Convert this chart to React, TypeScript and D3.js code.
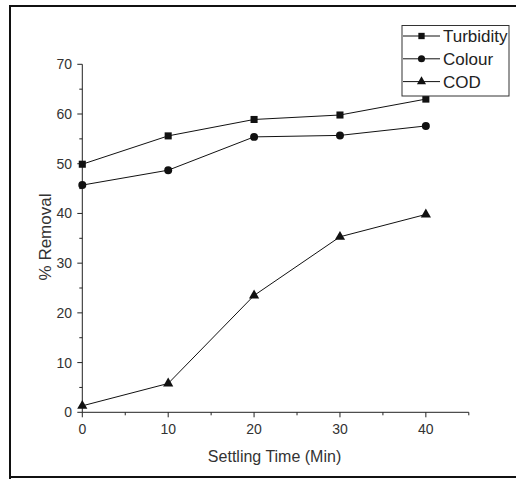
import React, { useEffect, useRef } from "react";
import * as d3 from "d3";

const times = [0, 10, 20, 30, 40];
const turbidity = [49.9, 55.6, 58.9, 59.8, 63.0];
const colour = [45.7, 48.7, 55.4, 55.7, 57.6];
const cod = [1.3, 5.8, 23.5, 35.3, 39.8];
const seriesNames = ["Turbidity", "Colour", "COD"];
const yTicks = [0, 10, 20, 30, 40, 50, 60, 70];
const xTicks = [0, 10, 20, 30, 40];

const W = 516;
const H = 479;
const FONT = "'Liberation Sans', Arial, sans-serif";

export default function App() {
  const ref = useRef<SVGSVGElement>(null);

  useEffect(() => {
    const svg = d3.select(ref.current);
    svg.selectAll("*").remove();

    const x = d3.scaleLinear().domain([0, 45]).range([82.3, 468.8]);
    const y = d3.scaleLinear().domain([0, 70]).range([412.3, 64.3]);

    // outer frame
    svg
      .append("path")
      .attr("d", `M10,${H + 2} L10,6 L${W + 2},6 M10,477 L${W + 2},477`)
      .attr("fill", "none")
      .attr("stroke", "#111")
      .attr("stroke-width", 2);

    const ink = "#222";

    // axes
    const g = svg.append("g");
    g.append("line")
      .attr("x1", x(0)).attr("x2", x(0))
      .attr("y1", y(0)).attr("y2", y(70))
      .attr("stroke", ink).attr("stroke-width", 1);
    g.append("line")
      .attr("x1", x(0)).attr("x2", x(45))
      .attr("y1", y(0)).attr("y2", y(0))
      .attr("stroke", ink).attr("stroke-width", 1);

    // y ticks
    const yMinor = d3.range(5, 70, 10);
    g.selectAll(".ymaj").data(yTicks).join("line")
      .attr("x1", x(0) - 5).attr("x2", x(0))
      .attr("y1", (d) => y(d)).attr("y2", (d) => y(d))
      .attr("stroke", ink);
    g.selectAll(".ymin").data(yMinor).join("line")
      .attr("x1", x(0) - 3).attr("x2", x(0))
      .attr("y1", (d) => y(d)).attr("y2", (d) => y(d))
      .attr("stroke", ink);
    g.selectAll(".ylab").data(yTicks).join("text")
      .attr("x", 72).attr("y", (d) => y(d) + 5)
      .attr("text-anchor", "end")
      .attr("font-family", FONT).attr("font-size", 14).attr("fill", "#333")
      .text((d) => d);

    // x ticks
    const xMinor = d3.range(5, 50, 10);
    g.selectAll(".xmaj").data(xTicks).join("line")
      .attr("x1", (d) => x(d)).attr("x2", (d) => x(d))
      .attr("y1", y(0)).attr("y2", y(0) + 5)
      .attr("stroke", ink);
    g.selectAll(".xmin").data(xMinor).join("line")
      .attr("x1", (d) => x(d)).attr("x2", (d) => x(d))
      .attr("y1", y(0)).attr("y2", y(0) + 3)
      .attr("stroke", ink);
    g.selectAll(".xlab").data(xTicks).join("text")
      .attr("x", (d) => x(d)).attr("y", 433.5)
      .attr("text-anchor", "middle")
      .attr("font-family", FONT).attr("font-size", 14).attr("fill", "#333")
      .text((d) => d);

    // axis titles
    svg.append("text")
      .attr("x", (x(0) + x(45)) / 2 - 1).attr("y", 462)
      .attr("text-anchor", "middle")
      .attr("font-family", FONT).attr("font-size", 16).attr("fill", "#333")
      .text("Settling Time (Min)");
    svg.append("text")
      .attr("transform", `translate(51,${237}) rotate(-90)`)
      .attr("text-anchor", "middle")
      .attr("font-family", FONT).attr("font-size", 17).attr("fill", "#333")
      .text("% Removal");

    const series = [turbidity, colour, cod];
    const symbols = [d3.symbolSquare, d3.symbolCircle, d3.symbolTriangle];
    const sizes = [50, 50, 45];
    const line = d3.line<number>()
      .x((_, i) => x(times[i]))
      .y((d) => y(d));

    series.forEach((vals, si) => {
      svg.append("path")
        .attr("d", line(vals))
        .attr("fill", "none")
        .attr("stroke", "#111")
        .attr("stroke-width", 1);
      svg.selectAll(`.m${si}`).data(vals).join("path")
        .attr("transform", (d, i) => `translate(${x(times[i])},${y(d)})`)
        .attr("d", d3.symbol().type(symbols[si]).size(sizes[si])())
        .attr("fill", "#111");
    });

    // legend
    const lg = svg.append("g");
    lg.append("rect")
      .attr("x", 402).attr("y", 25.5).attr("width", 107).attr("height", 70.5)
      .attr("fill", "#fff").attr("stroke", "#333").attr("stroke-width", 1);
    seriesNames.forEach((name, i) => {
      const cy = 36 + i * 22.8;
      lg.append("line")
        .attr("x1", 403).attr("x2", 440).attr("y1", cy).attr("y2", cy)
        .attr("stroke", "#111");
      lg.append("path")
        .attr("transform", `translate(421.5,${cy})`)
        .attr("d", d3.symbol().type(symbols[i]).size(sizes[i] * 0.8)())
        .attr("fill", "#111");
      lg.append("text")
        .attr("x", 443).attr("y", cy + 6)
        .attr("font-family", FONT).attr("font-size", 17).attr("fill", "#222")
        .text(name);
    });
  }, []);

  return (
    <svg
      ref={ref}
      width={W}
      height={H}
      style={{ position: "absolute", left: 0, top: 0, background: "#fff" }}
    />
  );
}
